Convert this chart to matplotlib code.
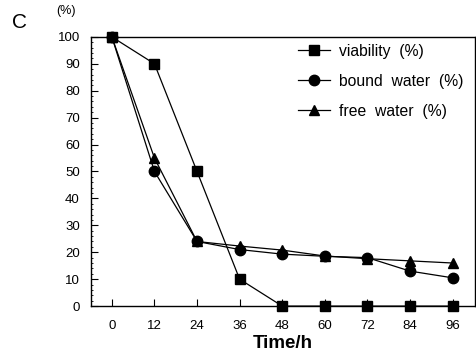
import matplotlib.pyplot as plt

plt.rcParams['font.family'] = ['Liberation Sans', 'DejaVu Sans']

time_h = [0, 12, 24, 36, 48, 60, 72, 84, 96]
viability = [100, 90, 50, 10, 0, 0, 0, 0, 0]
bound_water = [100, 50, 24, 21, 19.3, 18.5, 18, 13, 10.5]
free_water = [100, 55, 24, 22.3, 20.8, 18.6, 17.6, 16.8, 16]

fig = plt.figure(figsize=(4.76, 3.58), dpi=100)
ax = fig.add_axes([0.191, 0.145, 0.806, 0.752])

ax.plot(time_h, viability, color='black', lw=0.9, marker='s', ms=7,
        label='viability  (%)', clip_on=False, zorder=3)
ax.plot(time_h, bound_water, color='black', lw=0.9, marker='o', ms=7.5,
        label='bound  water  (%)', clip_on=False, zorder=3)
ax.plot(time_h, free_water, color='black', lw=0.9, marker='^', ms=6.5,
        label='free  water  (%)', clip_on=False, zorder=3)

ax.set_xlim(-5.9, 102.2)
ax.set_ylim(0, 100)
ax.set_xticks(time_h)
ax.set_yticks(range(0, 101, 10))
ax.tick_params(direction='in', length=5, width=0.8, labelsize=9.5)
ax.tick_params(axis='x', pad=10)
ax.tick_params(axis='y', pad=8)
ax.set_yticks(range(0, 101, 2), minor=True)
ax.tick_params(axis='y', which='minor', direction='in', length=1.5, width=0.6)
for s in ax.spines.values():
    s.set_linewidth(1.0)

ax.set_xlabel('Time/h', fontsize=13.5, fontweight='bold', labelpad=2)

fig.text(0.04, 0.91, 'C', fontsize=15, ha='center', va='bottom')
fig.text(0.139, 0.953, '(%)', fontsize=9, ha='center', va='bottom')

leg = ax.legend(loc='upper right', frameon=False, fontsize=11.3, handlelength=2.0,
                handletextpad=0.6, labelspacing=0.95, borderaxespad=0.3,
                bbox_to_anchor=(1.0, 1.015))

fig.savefig('out.png', dpi=100)
